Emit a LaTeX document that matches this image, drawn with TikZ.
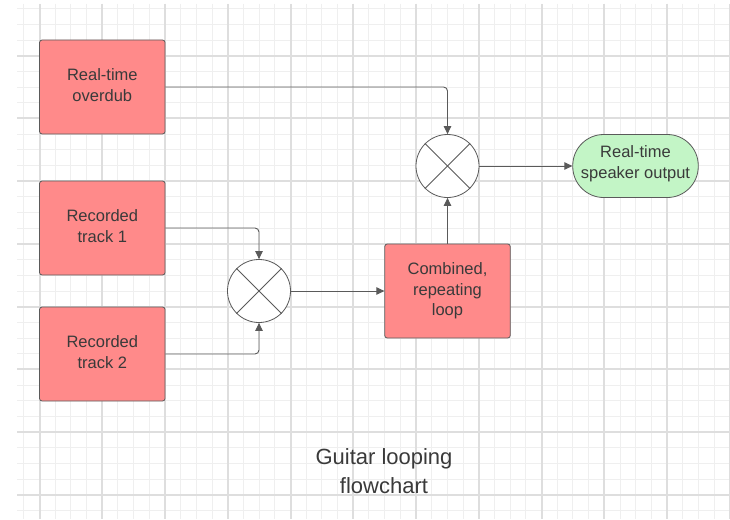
\documentclass[tikz,border=0pt]{standalone}
\usepackage{fontspec}
\setmainfont{Liberation Sans}
\usetikzlibrary{arrows.meta}

\definecolor{boxred}{HTML}{FF8A8A}
\definecolor{termgreen}{HTML}{C3F5C6}
\definecolor{edgegray}{HTML}{5A5A5A}
\definecolor{txtgray}{HTML}{3A3A3A}
\definecolor{gridminor}{HTML}{EFEFEF}
\definecolor{gridmajor}{HTML}{DEDEDE}

\tikzset{
  procbox/.style={rectangle, rounded corners=2.5pt, draw=edgegray, line width=0.8pt,
    fill=boxred, minimum width=125.5pt, minimum height=94pt, align=center,
    text=txtgray, font=\fontsize{16.5}{20.5}\selectfont, inner sep=0pt},
  termbox/.style={rectangle, rounded corners=31pt, draw=edgegray, line width=0.8pt,
    fill=termgreen, minimum width=125.5pt, minimum height=63pt, inner sep=0pt},
  boxlabel/.style={text=txtgray, align=center,
    font=\fontsize{16.5}{20.5}\selectfont, inner sep=0pt},
  mixer/.style={circle, draw=edgegray, line width=0.8pt, fill=white,
    minimum size=63pt, inner sep=0pt},
  flow/.style={draw=edgegray, line width=0.9pt, rounded corners=4pt,
    -{Triangle[length=8pt,width=7.5pt]}},
  titletext/.style={align=center, text=txtgray,
    font=\fontsize{22}{28.5}\selectfont, inner sep=0pt}
}

\begin{document}
\begin{tikzpicture}[x=1pt, y=-1pt]
  \useasboundingbox (0,0) rectangle (730,519);
  \fill[white] (0,0) rectangle (730,519);

  % background grid, snapped to whole pixels
  \begin{scope}
    \clip (17,4) rectangle (730,519);
    \foreach \i in {-1,...,44} {
      \pgfmathsetmacro\gx{floor(39.5+15.69*\i)+0.5}
      \draw[gridminor, line width=1pt] (\gx,4) -- (\gx,519);
    }
    \foreach \j in {-3,...,29} {
      \pgfmathsetmacro\gy{floor(55.7+15.69*\j)+0.5}
      \draw[gridminor, line width=1pt] (17,\gy) -- (730,\gy);
    }
    \foreach \i in {0,...,11} {
      \pgfmathsetmacro\gx{round(39.5+62.76*\i)}
      \draw[gridmajor, line width=2pt] (\gx,4) -- (\gx,519);
    }
    \foreach \j in {0,...,7} {
      \pgfmathsetmacro\gy{round(55.7+62.76*\j)}
      \draw[gridmajor, line width=2pt] (17,\gy) -- (730,\gy);
    }
  \end{scope}

  % blocks
  \node[procbox] (overdub) at (102.3,87) {};
  \node[procbox] (trackA) at (102.3,228) {};
  \node[procbox] (trackB) at (102.3,354) {};
  \node[procbox] (loop) at (447.5,291) {Combined,\\repeating\\loop};
  \node[termbox] (speaker) at (635.5,166) {};

  % two-line labels, set a little higher than the box centres
  \node[boxlabel] (overdubtxt) at (102.3,85) {Real-time\\overdub};
  \node[boxlabel] (trackAtxt) at (102.3,226) {Recorded\\track 1};
  \node[boxlabel] (trackBtxt) at (102.3,352) {Recorded\\track 2};
  \node[boxlabel] (speakertxt) at (635.5,163.5) {Real-time\\speaker output};

  % summing junctions
  \node[mixer] (mixA) at (259,291) {};
  \node[mixer] (mixB) at (447.5,166) {};
  \foreach \m in {mixA, mixB} {
    \draw[edgegray, line width=0.8pt] (\m.45) -- (\m.225);
    \draw[edgegray, line width=0.8pt] (\m.135) -- (\m.315);
  }

  % connectors
  \draw[flow] (overdub.east) -| (mixB.north);
  \draw[flow] (trackA.east) -| (mixA.north);
  \draw[flow] (trackB.east) -| (mixA.south);
  \draw[flow] (mixA.east) -- (loop.west);
  \draw[flow] (loop.north) -- (mixB.south);
  \draw[flow] (mixB.east) -- (speaker.west);

  % caption
  \node[titletext] (caption) at (384,471) {Guitar looping\\flowchart};
\end{tikzpicture}
\end{document}
